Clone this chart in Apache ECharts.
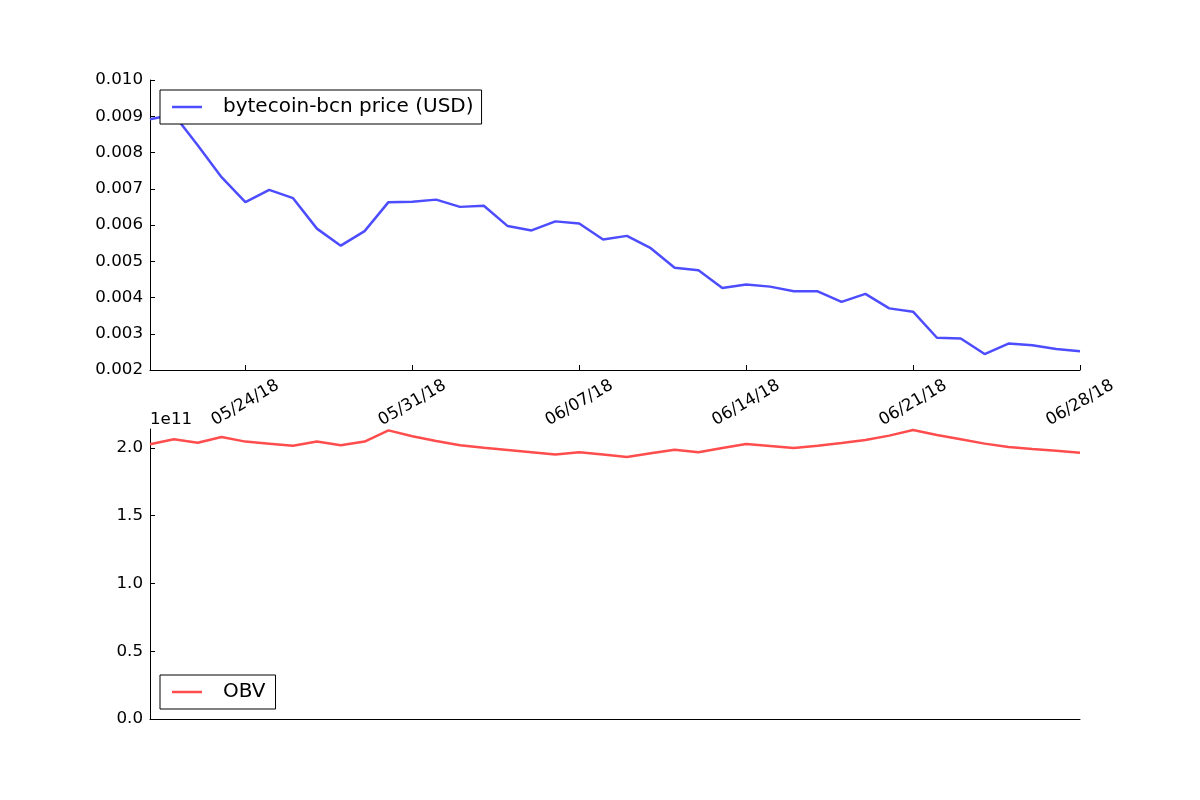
<!DOCTYPE html>
<html>
<head>
<meta charset="utf-8">
<script src="https://cdn.jsdelivr.net/npm/echarts@6/dist/echarts.min.js"></script>
<style>html,body{margin:0;padding:0;background:#fff}#c{width:1200px;height:800px}</style>
</head>
<body>
<div id="c"></div>
<script>
const dates = ["05/20/18","05/21/18","05/22/18","05/23/18","05/24/18","05/25/18","05/26/18","05/27/18","05/28/18","05/29/18",
"05/30/18","05/31/18","06/01/18","06/02/18","06/03/18","06/04/18","06/05/18","06/06/18","06/07/18","06/08/18",
"06/09/18","06/10/18","06/11/18","06/12/18","06/13/18","06/14/18","06/15/18","06/16/18","06/17/18","06/18/18",
"06/19/18","06/20/18","06/21/18","06/22/18","06/23/18","06/24/18","06/25/18","06/26/18","06/27/18","06/28/18"];
const tickLabels = ["05/24/18","05/31/18","06/07/18","06/14/18","06/21/18","06/28/18"];
const price = [0.00892,0.00905,0.00820,0.00732,0.00663,0.00697,0.00674,0.00590,0.00543,0.00583,
0.00663,0.00664,0.00670,0.00650,0.00653,0.00597,0.00585,0.00610,0.00604,0.00560,
0.00570,0.00536,0.00482,0.00475,0.00426,0.00436,0.00430,0.00417,0.00417,0.00388,
0.00410,0.00370,0.00361,0.00289,0.00287,0.00244,0.00273,0.00268,0.00258,0.00252];
const obv = [2.027e11,2.064e11,2.039e11,2.081e11,2.047e11,2.032e11,2.017e11,2.047e11,2.020e11,2.047e11,
2.130e11,2.086e11,2.052e11,2.020e11,2.002e11,1.985e11,1.968e11,1.951e11,1.968e11,1.951e11,
1.934e11,1.961e11,1.987e11,1.968e11,2.000e11,2.030e11,2.015e11,2.000e11,2.017e11,2.037e11,
2.059e11,2.091e11,2.133e11,2.096e11,2.064e11,2.032e11,2.007e11,1.993e11,1.980e11,1.965e11];

const FONT = 'DejaVu Sans';
const TICK_FS = 16.7;
const showTick = (i, v) => tickLabels.indexOf(v) >= 0;
const chart = echarts.init(document.getElementById('c'), null, {renderer: 'canvas'});
chart.setOption({
  animation: false,
  backgroundColor: '#fff',
  textStyle: {fontFamily: FONT},
  grid: [
    {left: 150, top: 80, width: 930, height: 290},
    {left: 150, top: 429, width: 930, height: 290}
  ],
  legend: [
    {data: ['bytecoin-bcn price (USD)'], left: 160, top: 90, orient: 'vertical',
     icon: 'rect', itemWidth: 30, itemHeight: 2.5,
     padding: [7, 8, 7, 12], borderColor: '#000', borderWidth: 1, borderRadius: 0,
     backgroundColor: '#fff',
     textStyle: {fontFamily: FONT, fontSize: 20, color: '#000', padding: [0, 0, 0, 16]}},
    {data: ['OBV'], left: 160, top: 675, orient: 'vertical',
     icon: 'rect', itemWidth: 30, itemHeight: 2.5,
     padding: [7, 10, 7, 12], borderColor: '#000', borderWidth: 1, borderRadius: 0,
     backgroundColor: '#fff',
     textStyle: {fontFamily: FONT, fontSize: 20, color: '#000', padding: [0, 0, 0, 16]}}
  ],
  xAxis: [
    {type: 'category', gridIndex: 0, data: dates, boundaryGap: false,
     axisLine: {lineStyle: {color: '#000', width: 1}},
     axisTick: {inside: true, length: 5, interval: showTick, lineStyle: {color: '#000'}},
     axisLabel: {interval: showTick, rotate: 30, align: 'center', verticalAlign: 'middle',
                 margin: 33, fontFamily: FONT, fontSize: TICK_FS, color: '#000'},
     splitLine: {show: false}},
    {type: 'category', gridIndex: 1, data: dates, boundaryGap: false,
     axisLine: {lineStyle: {color: '#000', width: 1}},
     axisTick: {show: false}, axisLabel: {show: false}, splitLine: {show: false}}
  ],
  yAxis: [
    {type: 'value', gridIndex: 0, min: 0.002, max: 0.010, interval: 0.001,
     axisLine: {show: true, lineStyle: {color: '#000'}},
     axisTick: {show: true, inside: true, length: 5, lineStyle: {color: '#000'}},
     axisLabel: {formatter: v => v.toFixed(3), fontFamily: FONT, fontSize: TICK_FS, color: '#000', margin: 7},
     splitLine: {show: false}},
    {type: 'value', gridIndex: 1, min: 0, max: 2.14e11, interval: 0.5e11,
     name: '1e11', nameLocation: 'end', nameGap: 1,
     nameTextStyle: {fontFamily: FONT, fontSize: TICK_FS, color: '#000', align: 'left', padding: [0, 0, 0, 0]},
     axisLine: {show: true, lineStyle: {color: '#000'}},
     axisTick: {show: true, inside: true, length: 5, lineStyle: {color: '#000'}},
     axisLabel: {formatter: v => (v / 1e11).toFixed(1), fontFamily: FONT, fontSize: TICK_FS, color: '#000', margin: 7,
                 showMaxLabel: false},
     splitLine: {show: false}}
  ],
  series: [
    {name: 'bytecoin-bcn price (USD)', type: 'line', xAxisIndex: 0, yAxisIndex: 0, data: price,
     showSymbol: false, symbol: 'none', lineStyle: {color: '#4d4dff', width: 2.5}, itemStyle: {color: '#4d4dff'}},
    {name: 'OBV', type: 'line', xAxisIndex: 1, yAxisIndex: 1, data: obv,
     showSymbol: false, symbol: 'none', lineStyle: {color: '#ff4d4d', width: 2.5}, itemStyle: {color: '#ff4d4d'}}
  ]
});
</script>
</body>
</html>
